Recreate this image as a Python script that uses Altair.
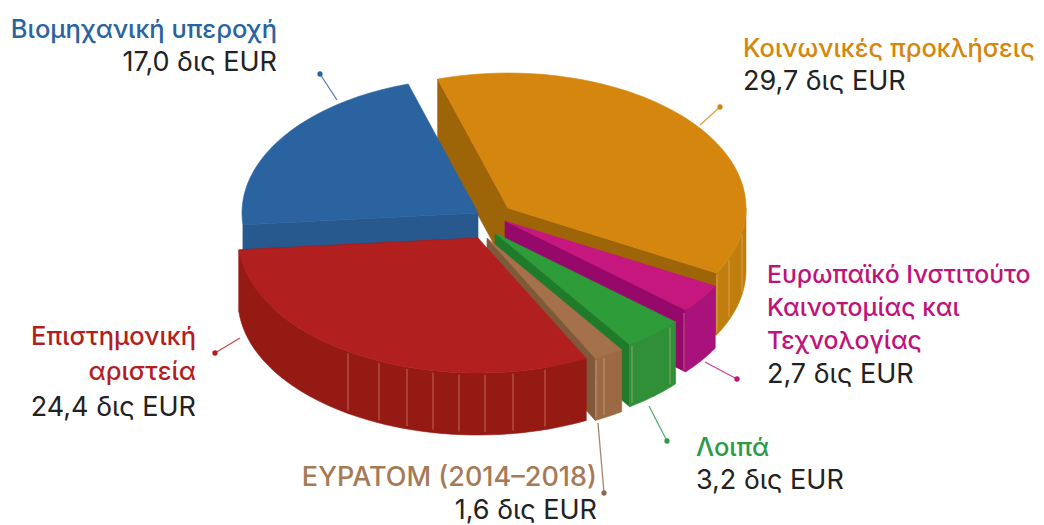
import numpy as np
import pandas as pd
import altair as alt

# ---- values, in billions of EUR, in clockwise drawing order from the top
names = ["Κοινωνικές προκλήσεις", "Ευρωπαϊκό Ινστιτούτο", "Λοιπά", "ΕΥΡΑΤΟΜ", "Επιστημονική αριστεία", "Βιομηχανική υπεροχή"]
values = [29.7, 2.7, 3.2, 1.6, 24.4, 17.0]
tip_x = [508, 505, 495, 487, 478, 478]
tip_y = [208, 221, 233, 238, 238, 213]
radius_x = [238, 240, 240, 240, 240, 236]
top_colors = ["#d4860e", "#c5177e", "#2f9c3a", "#a5714a", "#b21f1f", "#2a639f"]
rim_colors = ["#c07f0c", "#a9127a", "#2f9038", "#9c6a42", "#961a14", "#27598f"]
band_colors = ["#9e6508", "#96096b", "#1f7a2a", "#80583a", "#961a14", "#27598f"]
paint_order = [0, 5, 1, 2, 3, 4]
START_ANGLE = -17.2
RADIUS_Y = 135
DEPTH = 62

rim_facets = {0: [717, 729, 742], 1: [684], 2: [632, 670], 3: [596, 604],
              4: [348, 379, 407, 433, 459, 485, 513, 545]}

label_rows = [
    ("Βιομηχανική υπεροχή", 277, 30, "right", "#2a639f", 500, 25.5),
    ("17,0 δις EUR", 277, 63, "right", "#222222", 400, 27),
    ("Κοινωνικές προκλήσεις", 743, 49, "left", "#d4860e", 500, 25.5),
    ("29,7 δις EUR", 743, 82, "left", "#222222", 400, 27),
    ("Ευρωπαϊκό Ινστιτούτο", 767, 276, "left", "#c0137a", 500, 24.8),
    ("Καινοτομίας και", 767, 309, "left", "#c0137a", 500, 24.8),
    ("Τεχνολογίας", 767, 342, "left", "#c0137a", 500, 24.8),
    ("2,7 δις EUR", 767, 375, "left", "#222222", 400, 27),
    ("Λοιπά", 696, 448, "left", "#2c9a47", 500, 25.5),
    ("3,2 δις EUR", 696, 481, "left", "#222222", 400, 27),
    ("ΕΥΡΑΤΟΜ (2014–2018)", 597, 478, "right", "#a57a56", 500, 27),
    ("1,6 δις EUR", 597, 511, "right", "#222222", 400, 27),
    ("Επιστημονική", 196, 337, "right", "#b21f1f", 500, 25.5),
    ("αριστεία", 196, 372, "right", "#b21f1f", 500, 25.5),
    ("24,4 δις EUR", 196, 408, "right", "#222222", 400, 27),
]
leaders = [
    (320, 74, 337, 100, "#2a639f"),
    (720, 107, 700, 125, "#d4860e"),
    (215, 353, 240, 338, "#b21f1f"),
    (737, 379, 705, 362, "#c0137a"),
    (667, 441, 649, 406, "#2c9a47"),
    (604, 493, 598, 423, "#8a6a50"),
]

W, H = 1028, 517
X = alt.X("x:Q", axis=None, scale=alt.Scale(domain=[8, 8 + W], nice=False, zero=False))
Y = alt.Y("y:Q", axis=None, scale=alt.Scale(domain=[8 + H, 8], nice=False, zero=False))

# ---- slice geometry follows from the values
spans = np.array(values) / sum(values) * 360
starts = START_ANGLE + np.concatenate([[0], np.cumsum(spans)[:-1]])


def rim(k, a, b, n=48):
    t = np.radians(np.linspace(a, b, n))
    return tip_x[k] + radius_x[k] * np.sin(t), tip_y[k] - RADIUS_Y * np.cos(t)


rows = []
pid = 0


def add(xs, ys, color):
    global pid
    for i, (x, y) in enumerate(zip(xs, ys)):
        rows.append({"piece": pid, "i": i, "x": float(x), "y": float(y), "color": color})
    pid += 1


def wall(k, x1, y1):
    add([tip_x[k], x1, x1, tip_x[k]], [tip_y[k], y1, y1 + DEPTH, tip_y[k] + DEPTH], band_colors[k])


for k in paint_order:
    a, b = starts[k], starts[k] + spans[k]
    rx, ry = rim(k, a, b)
    # the flat walls that face the viewer
    if k in (0, 5):
        wall(k, rx[0], ry[0])
    if k != 5:
        wall(k, rx[-1], ry[-1])
    # outer wall: the part of the rim that faces the viewer
    va = 90 if k == 0 else a
    vb = b
    if k != 5:
        wx, wy = rim(k, va, vb)
        add(np.concatenate([wx, wx[::-1]]), np.concatenate([wy, wy[::-1] + DEPTH]), rim_colors[k])
    # top face
    add(np.concatenate([[tip_x[k]], rx]), np.concatenate([[tip_y[k]], ry]), top_colors[k])

df = pd.DataFrame(rows)
faces = alt.Chart(df).mark_line(interpolate="linear-closed", strokeWidth=0.6).encode(
    x=X, y=Y, order="i:Q", detail="piece:N",
    fill=alt.Fill("color:N", scale=None), stroke=alt.Stroke("color:N", scale=None),
)

# ---- thin light seams on the walls
seams = []
for k, xs in rim_facets.items():
    for x in xs:
        s = (x - tip_x[k]) / radius_x[k]
        y = tip_y[k] + RADIUS_Y * np.sqrt(1 - s * s)
        seams.append({"x": x, "y": y + 2, "y2": y + DEPTH - 3})
seam = alt.Chart(pd.DataFrame(seams)).mark_rule(color="#f0c0a8", strokeWidth=0.8, opacity=0.6).encode(
    x=X, y=Y, y2="y2:Q"
)

# ---- leader lines and dots
lead_rows = []
for n, (x0, y0, x1, y1, c) in enumerate(leaders):
    lead_rows += [{"n": n, "i": 0, "x": x0, "y": y0, "c": c}, {"n": n, "i": 1, "x": x1, "y": y1, "c": c}]
lead_df = pd.DataFrame(lead_rows)
lead = alt.Chart(lead_df).mark_line(strokeWidth=1.3, opacity=0.8).encode(
    x=X, y=Y, order="i:Q", detail="n:N", color=alt.Color("c:N", scale=None)
)
dots = alt.Chart(lead_df[lead_df.i == 0]).mark_point(filled=True, size=28, opacity=1).encode(
    x=X, y=Y, color=alt.Color("c:N", scale=None)
)

# ---- labels
text_layers = []
lab = pd.DataFrame(label_rows, columns=["text", "x", "y", "align", "color", "weight", "size"])
for (align, weight, size), g in lab.groupby(["align", "weight", "size"]):
    text_layers.append(
        alt.Chart(g).mark_text(align=align, baseline="middle", font="Inter", fontSize=float(size), fontWeight=int(weight)).encode(
            x=X, y=Y, text="text:N", color=alt.Color("color:N", scale=None)
        )
    )

chart = alt.layer(faces, seam, lead, dots, *text_layers).properties(
    width=W, height=H, padding=0, autosize=alt.AutoSizeParams(type="none"), background="white"
).configure_view(stroke=None)

chart.save("out.html", embed_options={"renderer": "svg", "actions": False})
